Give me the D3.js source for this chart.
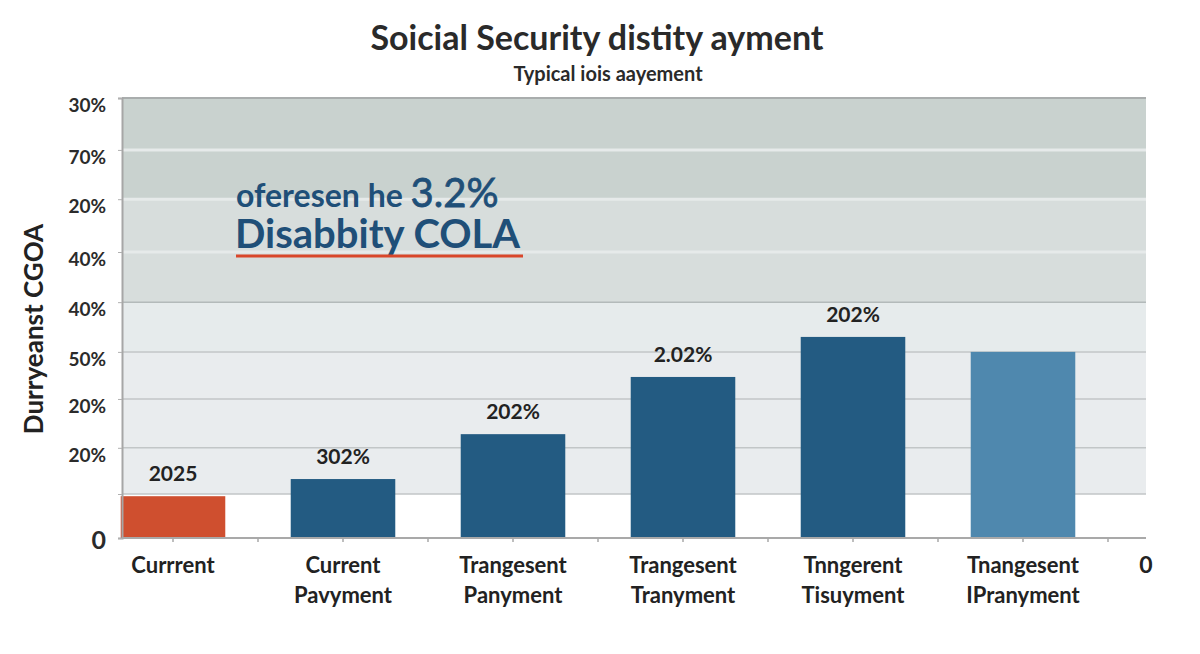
<!DOCTYPE html>
<html>
<head>
<meta charset="utf-8">
<style>
  html, body { margin: 0; padding: 0; background: #fff; }
  svg { display: block; font-family: Lato, "Open Sans", sans-serif; }
  .tick-label { font-size: 19px; font-weight: 700; fill: #2b2b2b; }
  .cat-label { font-size: 22px; font-weight: 700; fill: #222; }
  .val-label { font-size: 21px; font-weight: 700; fill: #222; }
</style>
</head>
<body>
<div id="chart"><svg></svg></div>
<script src="https://d3js.org/d3.v7.min.js"></script>
<script>
  // chart data
  var catLine1 = ["Currrent", "Current", "Trangesent", "Trangesent", "Tnngerent", "Tnangesent"];
  var catLine2 = ["", "Pavyment", "Panyment", "Tranyment", "Tisuyment", "IPranyment"];
  var values = [9.5, 13.4, 23.6, 36.6, 45.7, 42.3];
  var valueLabels = ["2025", "302%", "202%", "2.02%", "202%", ""];
  var tickValues = [100, 88.2, 77.0, 65.0, 53.6, 42.3, 31.6, 20.5, 10.0, 0];
  var tickLabels = ["30%", "70%", "20%", "40%", "40%", "50%", "20%", "20%", "", "0"];

  var barColors = ["#cf4f2f", "#235b82", "#235b82", "#235b82", "#235b82", "#4f88ae"];

  (function() {
    var width = 1200, height = 654;
    var plotL = 122, plotR = 1146, plotT = 98, plotB = 538;

    var svg = d3.select("#chart svg").attr("width", width).attr("height", height);

    var x = d3.scaleBand().domain(d3.range(catLine1.length)).range([88, 1108]);
    var y = d3.scaleLinear().domain([0, 100]).range([plotB, plotT]);
    var barW = x.bandwidth() * 0.615;

    // background bands
    var bands = [
      { from: 100, to: 77.0, fill: "#c9d2cf" },
      { from: 77.0, to: 53.6, fill: "#d7dddc" },
      { from: 53.6, to: 42.3, fill: "#e6ebec" },
      { from: 42.3, to: 10.0, fill: "#e9ecee" },
      { from: 10.0, to: 0, fill: "#ffffff" }
    ];
    svg.append("g").selectAll("rect").data(bands).enter().append("rect")
      .attr("x", plotL).attr("width", plotR - plotL)
      .attr("y", function(d) { return y(d.from); })
      .attr("height", function(d) { return y(d.to) - y(d.from); })
      .attr("fill", function(d) { return d.fill; });

    // gridlines
    var gridColor = function(v) {
      if (v > 60) return "#e6eaea";
      if (v > 50) return "#b3baba";
      return "#c2c6c7";
    };
    svg.append("g").selectAll("line").data(tickValues.slice(1, -1)).enter().append("line")
      .attr("x1", plotL).attr("x2", plotR)
      .attr("y1", function(d) { return y(d); }).attr("y2", function(d) { return y(d); })
      .attr("stroke", gridColor)
      .attr("stroke-width", function(d) { return d > 60 ? 3 : 1.5; });

    // top border
    svg.append("line").attr("x1", plotL).attr("x2", plotR)
      .attr("y1", y(100)).attr("y2", y(100))
      .attr("stroke", "#a9adad").attr("stroke-width", 2);

    // bars
    svg.append("g").selectAll("rect").data(values).enter().append("rect")
      .attr("x", function(d, i) { return x(i) + (x.bandwidth() - barW) / 2; })
      .attr("width", barW)
      .attr("y", function(d) { return y(d); })
      .attr("height", function(d) { return y(0) - y(d); })
      .attr("fill", function(d, i) { return barColors[i]; });

    // value labels
    svg.append("g").selectAll("text").data(values).enter().append("text")
      .attr("class", "val-label")
      .attr("x", function(d, i) { return x(i) + x.bandwidth() / 2; })
      .attr("y", function(d) { return y(d) - 15; })
      .attr("text-anchor", "middle")
      .text(function(d, i) { return valueLabels[i]; });

    // y axis
    var yAxis = d3.axisLeft(y).tickValues(tickValues)
      .tickFormat(function(d, i) { return tickLabels[i]; })
      .tickSize(4).tickPadding(12);
    var gy = svg.append("g").attr("transform", "translate(" + plotL + ",0)").call(yAxis);
    gy.attr("font-family", null).attr("font-size", null);
    gy.select(".domain").attr("stroke", "#a6a6a6").attr("stroke-width", 2);
    gy.selectAll(".tick line").attr("stroke", "#b0b0b0");
    gy.selectAll(".tick text").attr("class", "tick-label").attr("fill", null).attr("dy", "0.7em");
    gy.selectAll(".tick text").filter(function(d) { return d === 0; })
      .style("font-size", "25px").attr("dy", "0.4em");

    // x axis line with ticks at centres and band edges
    svg.append("line").attr("x1", plotL).attr("x2", plotR)
      .attr("y1", plotB).attr("y2", plotB)
      .attr("stroke", "#a9a9a9").attr("stroke-width", 2);
    var xTicks = [];
    x.domain().forEach(function(i) {
      xTicks.push(x(i) + x.bandwidth() / 2);
      xTicks.push(x(i) + x.bandwidth());
    });
    svg.append("g").selectAll("line").data(xTicks).enter().append("line")
      .attr("x1", function(d) { return d; }).attr("x2", function(d) { return d; })
      .attr("y1", plotB).attr("y2", plotB + 4)
      .attr("stroke", "#a9a9a9").attr("stroke-width", 1.5);

    // category labels
    var cats = svg.append("g").selectAll("text").data(catLine1).enter().append("text")
      .attr("class", "cat-label")
      .attr("text-anchor", "middle")
      .attr("x", function(d, i) { return x(i) + x.bandwidth() / 2; })
      .attr("y", 573);
    cats.append("tspan").text(function(d) { return d; });
    cats.append("tspan")
      .attr("x", function(d, i) { return x(i) + x.bandwidth() / 2; })
      .attr("dy", 30)
      .text(function(d, i) { return catLine2[i]; });
    svg.append("text").attr("class", "cat-label")
      .attr("x", 1146).attr("y", 573).attr("text-anchor", "middle")
      .style("font-size", "23px").text("0");

    // titles
    svg.append("text").attr("x", 597).attr("y", 50).attr("text-anchor", "middle")
      .style("font-size", "34px").style("font-weight", 700).style("fill", "#2a2a2a")
      .text("Soicial Security distity  ayment");
    svg.append("text").attr("x", 608).attr("y", 81).attr("text-anchor", "middle")
      .style("font-size", "20px").style("font-weight", 700).style("fill", "#2a2a2a")
      .text("Typical iois aayement");

    // y title
    svg.append("text")
      .attr("transform", "translate(43,329) rotate(-90)")
      .attr("text-anchor", "middle")
      .style("font-size", "26px").style("font-weight", 700).style("fill", "#222")
      .text("Durryeanst CGOA");

    // annotation
    var note = svg.append("text").attr("x", 236).attr("y", 207)
      .style("font-weight", 700).style("fill", "#1f4f78");
    note.append("tspan").style("font-size", "32px").text("oferesen he ");
    note.append("tspan").style("font-size", "40px").style("font-weight", 400)
      .attr("stroke", "#1f4f78").attr("stroke-width", 0.8).text("3.2%");
    svg.append("text").attr("x", 235).attr("y", 248)
      .style("font-size", "40px").style("font-weight", 700).style("fill", "#1f4f78")
      .text("Disabbity COLA");
    svg.append("line").attr("x1", 236).attr("x2", 523).attr("y1", 256).attr("y2", 256)
      .attr("stroke", "#d9472b").attr("stroke-width", 3);
  })();
</script>
</body>
</html>
